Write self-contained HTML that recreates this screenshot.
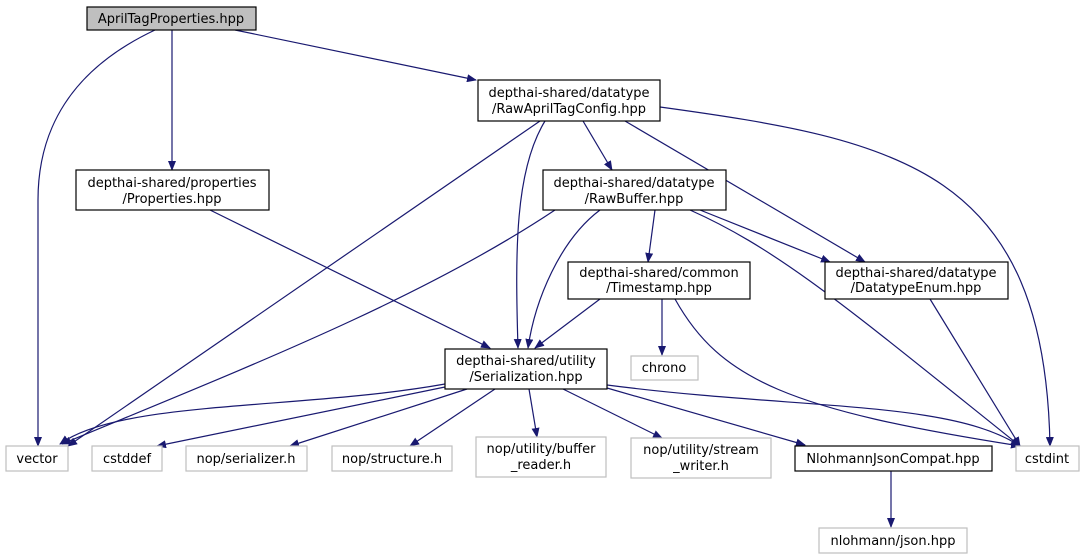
<!DOCTYPE html>
<html><head><meta charset="utf-8"><style>
html,body{margin:0;padding:0;background:#fff;}
svg{display:block;}
text{font-family:"DejaVu Sans","Liberation Sans",sans-serif;font-size:13px;fill:#000;text-anchor:middle;}
.e{fill:none;stroke:#191970;stroke-width:1.2;}
.n{fill:#fff;stroke:#000;stroke-width:1.2;}
.g{fill:#fff;stroke:#bfbfbf;stroke-width:1.2;}
</style></head><body>
<svg width="1085" height="559" viewBox="0 0 1085 559" xmlns="http://www.w3.org/2000/svg">
<defs><marker id="a" markerWidth="10" markerHeight="8" refX="9" refY="4" orient="auto" markerUnits="userSpaceOnUse"><path d="M0,0 L10,4 L0,8 z" fill="#191970"/></marker></defs>
<g class="e" marker-end="url(#a)">
<path d="M172,30 L172,170"/>
<path d="M155,30 C70,70 38,130 38,200 L38,446"/>
<path d="M235,30 L476,80"/>
<path d="M540,121 L68,446"/>
<path d="M545,121 C515,170 515,250 518,348"/>
<path d="M583,121 L612,170"/>
<path d="M625,121 L865,262"/>
<path d="M660,107 C900,140 1045,170 1050,446"/>
<path d="M210,210 L490,348"/>
<path d="M600,210 C560,240 535,300 528,348"/>
<path d="M555,210 C420,300 240,370 62,444"/>
<path d="M655,210 L648,262"/>
<path d="M700,210 L830,262"/>
<path d="M690,210 C780,250 850,310 1020,446"/>
<path d="M600,299 L535,348"/>
<path d="M662,299 L662,355"/>
<path d="M675,299 C720,380 790,410 1020,446"/>
<path d="M930,299 L1020,446"/>
<path d="M445,384 C300,410 120,400 60,444"/>
<path d="M445,387 L157,446"/>
<path d="M467,389 L290,446"/>
<path d="M495,389 L410,446"/>
<path d="M529,389 L537,437"/>
<path d="M563,389 L662,438"/>
<path d="M607,388 L805,445"/>
<path d="M607,385 C800,410 950,400 1020,446"/>
<path d="M891,471 L891,527"/>
</g>
<rect x="87" y="7" width="169" height="23" fill="#bfbfbf" stroke="#000" stroke-width="1.2"/><text x="171" y="23">AprilTagProperties.hpp</text>
<rect class="n" x="478" y="80" width="182" height="41"/><text x="569" y="97">depthai-shared/datatype</text><text x="569" y="113">/RawAprilTagConfig.hpp</text>
<rect class="n" x="76" y="170" width="193" height="40"/><text x="172" y="187">depthai-shared/properties</text><text x="172" y="203">/Properties.hpp</text>
<rect class="n" x="543" y="170" width="183" height="40"/><text x="634" y="187">depthai-shared/datatype</text><text x="634" y="203">/RawBuffer.hpp</text>
<rect class="n" x="568" y="262" width="182" height="37"/><text x="659" y="277">depthai-shared/common</text><text x="659" y="292">/Timestamp.hpp</text>
<rect class="n" x="825" y="262" width="183" height="37"/><text x="916" y="277">depthai-shared/datatype</text><text x="916" y="292">/DatatypeEnum.hpp</text>
<rect class="n" x="445" y="349" width="162" height="40"/><text x="526" y="365">depthai-shared/utility</text><text x="526" y="381">/Serialization.hpp</text>
<rect class="g" x="631" y="356" width="67" height="24"/><text x="664" y="372">chrono</text>
<rect class="g" x="6" y="446" width="62" height="25"/><text x="37" y="463">vector</text>
<rect class="g" x="92" y="446" width="70" height="25"/><text x="127" y="463">cstddef</text>
<rect class="g" x="186" y="446" width="121" height="25"/><text x="246" y="463">nop/serializer.h</text>
<rect class="g" x="332" y="446" width="120" height="25"/><text x="392" y="463">nop/structure.h</text>
<rect class="g" x="476" y="437" width="130" height="40"/><text x="541" y="453">nop/utility/buffer</text><text x="541" y="469">_reader.h</text>
<rect class="g" x="631" y="438" width="140" height="40"/><text x="701" y="454">nop/utility/stream</text><text x="701" y="470">_writer.h</text>
<rect class="n" x="795" y="446" width="197" height="25"/><text x="893" y="463">NlohmannJsonCompat.hpp</text>
<rect class="g" x="1016" y="446" width="63" height="25"/><text x="1047" y="463">cstdint</text>
<rect class="g" x="819" y="528" width="148" height="25"/><text x="893" y="545">nlohmann/json.hpp</text>
</svg>
</body></html>
